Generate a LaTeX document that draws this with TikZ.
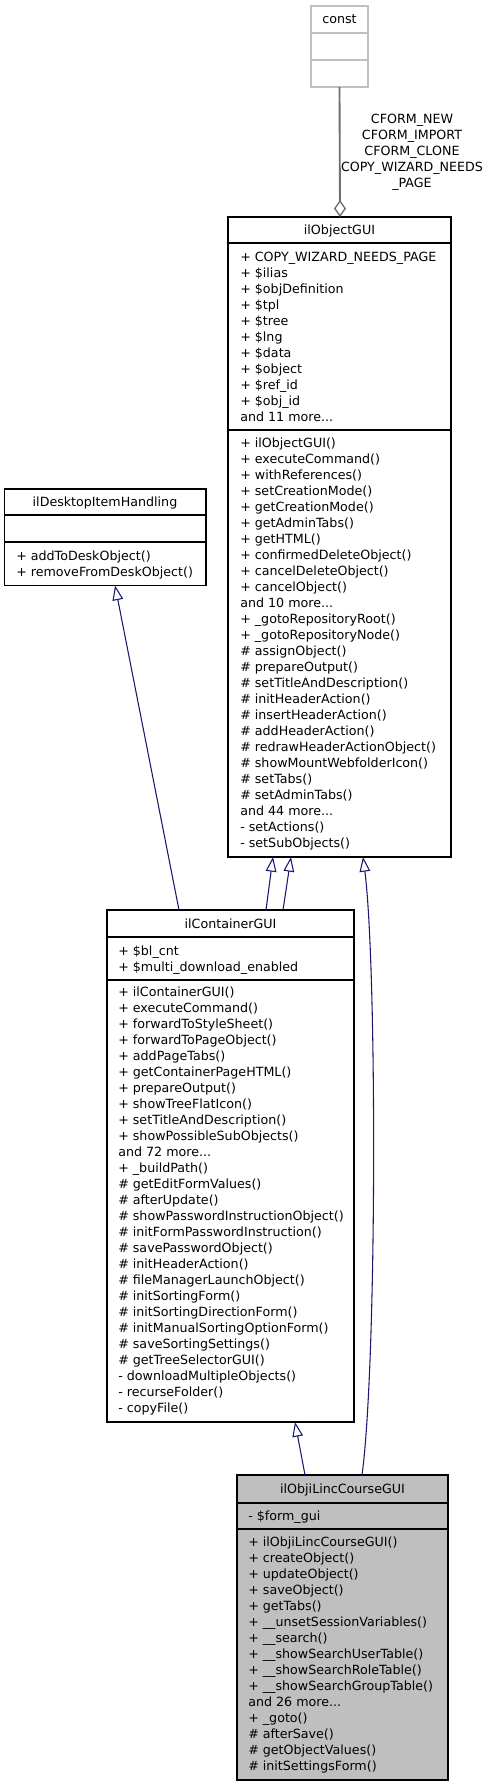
\documentclass[tikz,border=0pt]{standalone}
\usepackage{fontspec}
\setmainfont{DejaVu Sans}
\usetikzlibrary{arrows.meta}
\definecolor{edgeblue}{HTML}{191970}
\definecolor{boxgrey}{HTML}{BFBFBF}
\definecolor{usegrey}{HTML}{6E6E6E}
\newcommand\tdots{...}
\newcommand\classlines[4]{%
  \foreach \t [count=\i] in {#4} \node[member] (#1-\i) at (#2, {#3+16*(\i-1)}) {\t};}
\begin{document}
\begin{tikzpicture}[x=0.75pt,y=-0.75pt,
  classbox/.style={draw=black, line width=0.9pt, inner sep=0, outer sep=0, anchor=north west},
  member/.style={anchor=base west, inner sep=0, font=\fontsize{9.5}{12}\selectfont},
  ctitle/.style={anchor=base, inner sep=0, font=\fontsize{9.5}{12}\selectfont},
  divider/.style={line width=0.9pt},
  inherit/.style={draw=edgeblue, line width=0.8pt, -{Triangle[open, fill=white, length=11pt, width=8pt]}},
]
\useasboundingbox (0,0) rectangle (491,1787);

% const
\node[classbox, draw=boxgrey, minimum width=57*0.75pt, minimum height=81*0.75pt] (const) at (311,6) {};
\draw[divider, boxgrey] (311,33) -- (368,33);
\draw[divider, boxgrey] (311,60) -- (368,60);
\node[ctitle] (const-t) at (339.5,24) {const};

% ilObjectGUI
\node[classbox, minimum width=223*0.75pt, minimum height=640*0.75pt] (objgui) at (228,217) {};
\draw[divider] (228,243) -- (451,243);
\draw[divider] (228,430) -- (451,430);
\node[ctitle] (objgui-t) at (339.5,235) {ilObjectGUI};
\classlines{oa}{240}{261.5}{+ COPY\_WIZARD\_NEEDS\_PAGE,+ \$ilias,+ \$objDefinition,+ \$tpl,+ \$tree,+ \$lng,+ \$data,+ \$object,+ \$ref\_id,+ \$obj\_id,and 11 more\tdots}
\classlines{om}{240}{447.5}{+ ilObjectGUI(),+ executeCommand(),+ withReferences(),+ setCreationMode(),+ getCreationMode(),+ getAdminTabs(),+ getHTML(),+ confirmedDeleteObject(),+ cancelDeleteObject(),+ cancelObject(),and 10 more\tdots,+ \_gotoRepositoryRoot(),+ \_gotoRepositoryNode(),\# assignObject(),\# prepareOutput(),\# setTitleAndDescription(),\# initHeaderAction(),\# insertHeaderAction(),\# addHeaderAction(),\# redrawHeaderActionObject(),\# showMountWebfolderIcon(),\# setTabs(),\# setAdminTabs(),and 44 more\tdots,- setActions(),- setSubObjects()}

% ilDesktopItemHandling
\node[classbox, minimum width=201.5*0.75pt, minimum height=96.5*0.75pt] (desk) at (4.5,489) {};
\draw[divider] (4.5,515) -- (206,515);
\draw[divider] (4.5,542) -- (206,542);
\node[ctitle] (desk-t) at (105,506.5) {ilDesktopItemHandling};
\classlines{dm}{16}{560.5}{+ addToDeskObject(),+ removeFromDeskObject()}

% ilContainerGUI
\node[classbox, minimum width=247*0.75pt, minimum height=512*0.75pt] (cont) at (107,910) {};
\draw[divider] (107,937) -- (354,937);
\draw[divider] (107,980) -- (354,980);
\node[ctitle] (cont-t) at (230.5,928) {ilContainerGUI};
\classlines{ca}{118}{955.5}{+ \$bl\_cnt,+ \$multi\_download\_enabled}
\classlines{cm}{118}{996.5}{+ ilContainerGUI(),+ executeCommand(),+ forwardToStyleSheet(),+ forwardToPageObject(),+ addPageTabs(),+ getContainerPageHTML(),+ prepareOutput(),+ showTreeFlatIcon(),+ setTitleAndDescription(),+ showPossibleSubObjects(),and 72 more\tdots,+ \_buildPath(),\# getEditFormValues(),\# afterUpdate(),\# showPasswordInstructionObject(),\# initFormPasswordInstruction(),\# savePasswordObject(),\# initHeaderAction(),\# fileManagerLaunchObject(),\# initSortingForm(),\# initSortingDirectionForm(),\# initManualSortingOptionForm(),\# saveSortingSettings(),\# getTreeSelectorGUI(),- downloadMultipleObjects(),- recurseFolder(),- copyFile()}

% ilObjiLincCourseGUI
\node[classbox, fill=boxgrey, minimum width=211*0.75pt, minimum height=305*0.75pt] (linc) at (237,1475) {};
\draw[divider] (237,1503) -- (448,1503);
\draw[divider] (237,1529) -- (448,1529);
\node[ctitle] (linc-t) at (342.5,1493.5) {ilObjiLincCourseGUI};
\classlines{la}{248}{1520.5}{- \$form\_gui}
\classlines{lm}{248}{1546.5}{+ ilObjiLincCourseGUI(),+ createObject(),+ updateObject(),+ saveObject(),+ getTabs(),+ \_\_unsetSessionVariables(),+ \_\_search(),+ \_\_showSearchUserTable(),+ \_\_showSearchRoleTable(),+ \_\_showSearchGroupTable(),and 26 more\tdots,+ \_goto(),\# afterSave(),\# getObjectValues(),\# initSettingsForm()}

% usage edge
\draw[usegrey, line width=1.4pt, -{Diamond[open, fill=white, length=12.75pt, width=9pt, line width=1pt]}] (const.south) -- ([xshift=84pt]objgui.north west);
\node[ctitle] (lbl1) at (412,123.5) {CFORM\_NEW};
\node[ctitle] (lbl2) at (412,140) {CFORM\_IMPORT};
\node[ctitle] (lbl3) at (412,156) {CFORM\_CLONE};
\node[ctitle] (lbl4) at (412,172) {COPY\_WIZARD\_NEEDS};
\node[ctitle] (lbl5) at (412,188) {\_PAGE};

% inheritance edges
\draw[inherit] ([xshift=54pt]cont.north west) -- ([xshift=82.9pt]desk.south west);
\draw[inherit] ([xshift=119.25pt]cont.north west) -- ([xshift=33.75pt]objgui.south west);
\draw[inherit] ([xshift=132pt]cont.north west) -- ([xshift=47.25pt]objgui.south west);
\draw[inherit] ([xshift=51pt]linc.north west) -- ([xshift=141pt]cont.south west);
\draw[inherit] ([xshift=93.75pt]linc.north west) .. controls +(15,-110) and +(14,108) .. ([xshift=101.25pt]objgui.south west);
\end{tikzpicture}
\end{document}
